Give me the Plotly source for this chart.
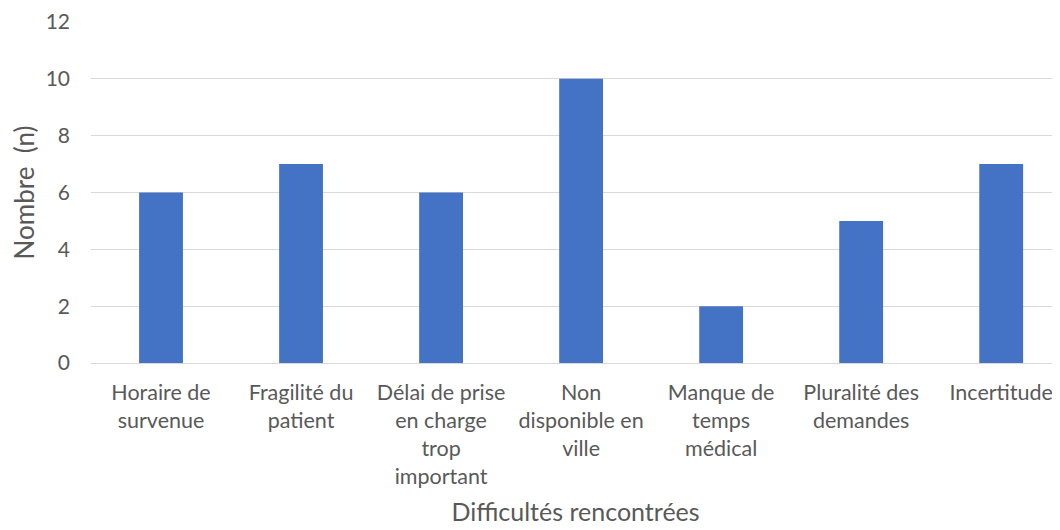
import plotly.graph_objects as go

categories = [
    "Horaire de<br>survenue",
    "Fragilité du<br>patient",
    "Délai de prise<br>en charge<br>trop<br>important",
    "Non<br>disponible en<br>ville",
    "Manque de<br>temps<br>médical",
    "Pluralité des<br>demandes",
    "Incertitude",
]
values = [6, 7, 6, 10, 2, 5, 7]
y_ticks = [0, 2, 4, 6, 8, 10, 12]

FONT = "Lato, Open Sans, sans-serif"
fig = go.Figure(
    go.Bar(
        x=list(range(len(categories))),
        y=values,
        marker=dict(color="#4472C4", line=dict(width=0)),
        width=0.313,
    )
)

fig.update_layout(
    width=1060,
    height=530,
    margin=dict(l=83, r=8, t=14, b=175),
    plot_bgcolor="white",
    paper_bgcolor="white",
    showlegend=False,
    font=dict(family=FONT, color="#595959"),
)
fig.update_xaxes(
    automargin=False,
    tickmode="array",
    tickvals=list(range(len(categories))),
    ticktext=categories,
    range=[-0.5, 6.42],
    showgrid=False,
    showline=True,
    linecolor="#d9d9d9",
    linewidth=1,
    ticks="",
    tickangle=0,
    tickfont=dict(size=21.5, color="#595959"),
    ticklabelstandoff=10,
    title=dict(text="Difficultés rencontrées", font=dict(size=25, color="#595959"), standoff=15),
)
fig.update_yaxes(
    automargin=False,
    range=[0, 12],
    tickvals=y_ticks,
    showgrid=True,
    gridcolor="#d9d9d9",
    gridwidth=1,
    zeroline=False,
    ticks="",
    tickfont=dict(size=21, color="#595959"),
    ticklabelstandoff=20,
    title=dict(text="Nombre\u00a0 (n)", font=dict(size=26, color="#595959"), standoff=8),
)

fig.write_html("out.html")
